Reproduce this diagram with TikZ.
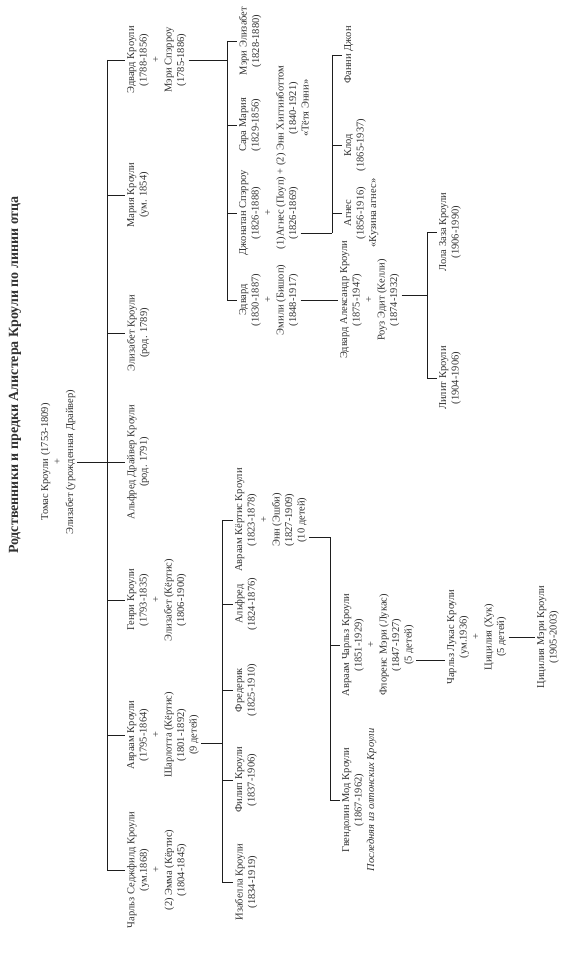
\documentclass[tikz,border=0pt]{standalone}
\usepackage{fontspec}
\setmainfont{Liberation Serif}
\usepackage{tikz}
\usetikzlibrary{positioning}
\definecolor{inkcolor}{RGB}{50, 50, 50}
\definecolor{linecolor}{RGB}{30, 30, 30}

\begin{document}
\begin{tikzpicture}[
    x=1pt, y=-1pt,
    heading/.style={rotate=90, font=\fontsize{14}{16}\selectfont\bfseries, text=inkcolor},
    person/.style={rotate=90, anchor=north, align=center, inner sep=2pt, font=\fontsize{10.5}{12.5}\selectfont, text=inkcolor},
    link/.style={draw=linecolor, line width=0.9pt}
]
\useasboundingbox (0,0) rectangle (568,974);

% Title
\node[heading] (title) at (15,375) {Родственники и предки Алистера Кроули по линии отца};

% Root couple
\node[person, anchor=center] (thomas) at (58,462) {Томас Кроули (1753-1809)\\+\\Элизабет (урожденная Драйвер)};

% Children of Thomas
\coordinate (bus) at (107,0);
\node[person] (edward) at (125,60) {Эдвард Кроули\\(1788-1856)\\+\\Мэри Спэрроу\\(1785-1886)};
\node[person] (maria) at (125,195) {Мария Кроули\\(ум. 1854)};
\node[person] (elizabeth) at (125,333) {Элизабет Кроули\\(род. 1789)};
\node[person] (alfred) at (125,462) {Альфред Драйвер Кроули\\(род. 1791)};
\node[person] (henry) at (125,600) {Генри Кроули\\(1793-1835)\\+\\Элизабет (Кёртис)\\(1806-1900)};
\node[person] (abraham) at (125,735) {Авраам Кроули\\(1795-1864)\\+\\Шарлотта (Кёртис)\\(1801-1892)\\(9 детей)};
\node[person] (charles) at (125,870) {Чарльз Седжфилд Кроули\\(ум.1868)\\+\\(2) Эмма (Кёртис)\\(1804-1845)};

% Children of Edward and Mary
\coordinate (busE) at (227,0);
\node[person] (maryeliz) at (237,41) {Мэри Элизабет\\(1828-1880)};
\node[person] (sarah) at (237,125) {Сара Мария\\(1829-1856)};
\node[person] (jonathan) at (237,213) {Джонатан Спэрроу\\(1826-1888)\\+\\(1)Агнес (Поуп)\rlap{ + (2) \smash{\begin{tabular}[t]{@{}c@{}}Энн Хиггинботтом\\(1840-1921)\\«Тётя Энни»\end{tabular}}}\\(1826-1869)};
\node[person] (edward2) at (237,300) {Эдвард\\(1830-1887)\\+\\Эмили (Бишоп)\\(1848-1917)};

% Children of Jonathan
\coordinate (busJ) at (332,0);
\node[person] (fanny) at (342,55) {Фанни Джон};
\node[person] (claude) at (342,145) {Клод\\(1865-1937)};
\node[person] (agnes) at (342,213) {Агнес\\(1856-1916)\\«Кузина агнес»};

% Edward Alexander and his children
\node[person] (edalex) at (338,300) {Эдвард Александр Кроули\\(1875-1947)\\+\\Роуз Эдит (Келли)\\(1874-1932)};
\coordinate (busA) at (427,0);
\node[person] (lola) at (437,232) {Лола Заза Кроули\\(1906-1990)};
\node[person] (lilith) at (437,378) {Лилит Кроули\\(1904-1906)};

% Children of Abraham and Charlotte
\coordinate (busB) at (222,0);
\node[person] (abrahamk) at (233,520) {Авраам Кёртис Кроули\\(1823-1878)\\+\\Энн (Эшби)\\(1827-1909)\\(10 детей)};
\node[person] (alfred2) at (233,604) {Альфред\\(1824-1876)};
\node[person] (frederick) at (233,690) {Фредерик\\(1825-1910)};
\node[person] (philip) at (233,780) {Филип Кроули\\(1837-1906)};
\node[person] (isabella) at (233,882) {Изабелла Кроули\\(1834-1919)};

% Children of Abraham Curtis
\coordinate (busK) at (330,0);
\node[person] (abrahamc) at (340,645) {Авраам Чарльз Кроули\\(1851-1929)\\+\\Флоренс Мэри (Лукас)\\(1847-1927)\\(5 детей)};
\node[person] (gwendolyn) at (340,800) {Гвендолин Мод Кроули\\(1867-1962)\\\textit{Последняя из олтонских Кроули}};

% Later generations
\node[person] (clucas) at (445,637) {Чарльз Лукас Кроули\\(ум.1936)\\+\\Цицилия (Хук)\\(5 детей)};
\node[person] (cecilia) at (535,637) {Цицилия Мэри Кроули\\(1905-2003)};

% Lines: Thomas
\draw[link] (thomas.south) -- (bus |- thomas.south);
\draw[link] (bus |- edward.north) -- (bus |- charles.north);
\draw[link] (bus |- edward.north) -- (edward.north);
\draw[link] (bus |- maria.north) -- (maria.north);
\draw[link] (bus |- elizabeth.north) -- (elizabeth.north);
\draw[link] (bus |- alfred.north) -- (alfred.north);
\draw[link] (bus |- henry.north) -- (henry.north);
\draw[link] (bus |- abraham.north) -- (abraham.north);
\draw[link] (bus |- charles.north) -- (charles.north);

% Lines: Edward
\draw[link] (edward.south) -- (busE |- edward.south);
\draw[link] (busE |- maryeliz.north) -- (busE |- edward2.north);
\draw[link] (busE |- maryeliz.north) -- (maryeliz.north);
\draw[link] (busE |- sarah.north) -- (sarah.north);
\draw[link] (busE |- jonathan.north) -- (jonathan.north);
\draw[link] (busE |- edward2.north) -- (edward2.north);

% Lines: Jonathan
\coordinate (jonlink) at ([yshift=-20pt]jonathan.south);
\draw[link] (jonlink) -- (jonlink -| busJ);
\draw[link] (busJ |- fanny.north) -- (busJ |- jonlink);
\draw[link] (busJ |- fanny.north) -- (fanny.north);
\draw[link] (busJ |- claude.north) -- (claude.north);
\draw[link] (busJ |- agnes.north) -- (agnes.north);

% Lines: Edward junior
\draw[link] (edward2.south) -- (edalex.north);
\coordinate (edalink) at ([yshift=5pt]edalex.south);
\draw[link] (edalink) -- (edalink -| busA);
\draw[link] (busA |- lola.north) -- (busA |- lilith.north);
\draw[link] (busA |- lola.north) -- (lola.north);
\draw[link] (busA |- lilith.north) -- (lilith.north);

% Lines: Abraham
\coordinate (ablink) at ([yshift=-8pt]abraham.south);
\draw[link] (ablink) -- (ablink -| busB);
\draw[link] (busB |- abrahamk.north) -- (busB |- isabella.north);
\draw[link] (busB |- abrahamk.north) -- (abrahamk.north);
\draw[link] (busB |- alfred2.north) -- (alfred2.north);
\draw[link] (busB |- frederick.north) -- (frederick.north);
\draw[link] (busB |- philip.north) -- (philip.north);
\draw[link] (busB |- isabella.north) -- (isabella.north);

% Lines: Abraham Curtis
\coordinate (abklink) at ([yshift=-17pt]abrahamk.south);
\draw[link] (abklink) -- (abklink -| busK);
\draw[link] (busK |- abklink) -- (busK |- gwendolyn.north);
\draw[link] (busK |- abrahamc.north) -- (abrahamc.north);
\draw[link] (busK |- gwendolyn.north) -- (gwendolyn.north);

% Lines: Abraham Charles and on
\coordinate (aclink) at ([yshift=-15pt]abrahamc.south);
\draw[link] (aclink) -- (aclink -| clucas.north);
\draw[link] (clucas.south) -- (cecilia.north);

\end{tikzpicture}
\end{document}
